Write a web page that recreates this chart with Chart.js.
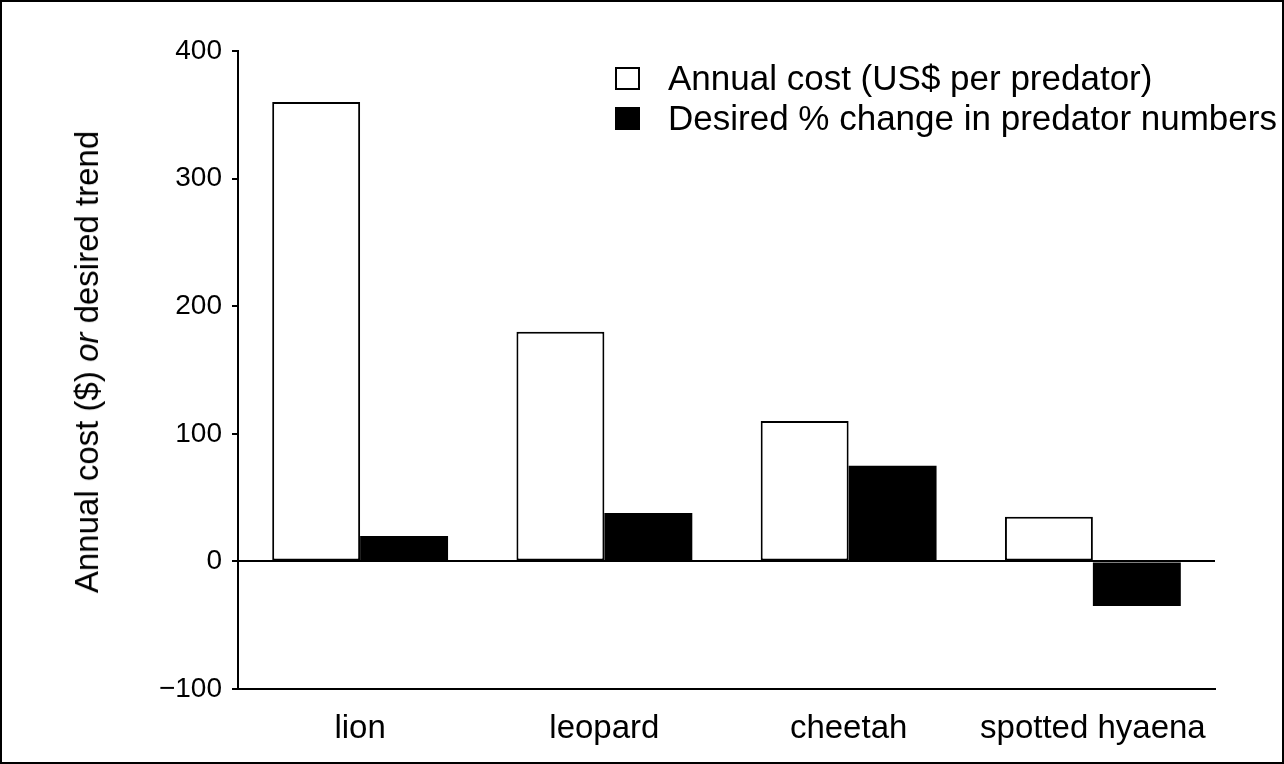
<!DOCTYPE html>
<html>
<head>
<meta charset="utf-8">
<script src="https://cdn.jsdelivr.net/npm/chart.js@4.4.1/dist/chart.umd.min.js"></script>
<style>
    html, body { margin: 0; padding: 0; background: #fff; }
    .frame {
        position: relative;
        width: 1284px;
        height: 764px;
        box-sizing: border-box;
        border: 2px solid #000;
        overflow: hidden;
    }
    #barChart { position: absolute; left: 0; top: 0; }
    .y-title {
        position: absolute;
        left: 85px;
        top: 360px;
        transform: translate(-50%, -50%) rotate(-90deg);
        white-space: nowrap;
        font: 33px "Liberation Sans", Arial, sans-serif;
        color: #000;
    }
    .legend { position: absolute; left: 613px; top: 56px; }
    .legend p {
        margin: 0;
        height: 40px;
        display: flex;
        align-items: center;
        font: 35px "Liberation Sans", Arial, sans-serif;
        color: #000;
    }
    .legend .box {
        width: 25px;
        height: 23px;
        box-sizing: border-box;
        border: 2px solid #000;
        margin-right: 28px;
    }
</style>
</head>
<body>
<div class="frame">
    <canvas id="barChart" width="1280" height="760"></canvas>
    <div class="y-title">Annual cost ($) <i>or</i> desired trend</div>
    <div class="legend" id="custom-legend"></div>
</div>
<script>
// data
const labels = ["lion", "leopard", "cheetah", "spotted hyaena"];
const annualCost = [360, 180, 110, 35];
const desiredChange = [20, 38, 75, -35];
const yTicks = [-100, 0, 100, 200, 300, 400];

const seriesNames = ["Annual cost (US$ per predator)", "Desired % change in predator numbers"];
const seriesFill = ['#fff', '#000'];

const font = '"Liberation Sans", Arial, sans-serif';

// Custom legend
const legendContainer = document.getElementById("custom-legend");
legendContainer.innerHTML = seriesNames.map((name, i) => `
  <p><span class="box" style="background: ${seriesFill[i]}"></span><span>${name}</span></p>
`).join('');

const ctx = document.getElementById('barChart').getContext('2d');

new Chart(ctx, {
    type: 'bar',
    data: {
        labels,
        datasets: [
            {
                label: seriesNames[0],
                data: annualCost,
                backgroundColor: seriesFill[0],
                borderColor: '#000',
                borderWidth: 2,
                borderSkipped: false,
                categoryPercentage: 0.72,
                barPercentage: 1.0
            },
            {
                label: seriesNames[1],
                data: desiredChange,
                backgroundColor: seriesFill[1],
                borderColor: '#000',
                borderWidth: 0,
                categoryPercentage: 0.72,
                barPercentage: 1.0
            }
        ]
    },
    options: {
        responsive: false,
        animation: false,
        layout: { padding: { top: 49, right: 67, left: 0, bottom: 0 } },
        scales: {
            x: {
                grid: { display: false },
                border: { display: true, color: '#000', width: 2 },
                ticks: {
                    color: '#000',
                    padding: 12,
                    font: { family: font, size: 33 }
                },
                afterFit: scale => { scale.height = 73; }
            },
            y: {
                min: -100,
                max: 400,
                afterBuildTicks: scale => { scale.ticks = yTicks.map(v => ({ value: v })); },
                grid: {
                    drawOnChartArea: true,
                    color: c => (c.tick && c.tick.value === 0) ? '#000' : 'rgba(0,0,0,0)',
                    lineWidth: 2,
                    tickColor: '#000',
                    tickLength: 6
                },
                border: { display: true, color: '#000', width: 2 },
                ticks: {
                    color: '#000',
                    padding: 10,
                    font: { family: font, size: 28 },
                    callback: v => v < 0 ? '\u2212' + Math.abs(v) : v
                },
                afterFit: scale => { scale.width = 236; }
            }
        },
        plugins: {
            legend: { display: false },
            tooltip: { enabled: false }
        }
    }
});
</script>
</body>
</html>
